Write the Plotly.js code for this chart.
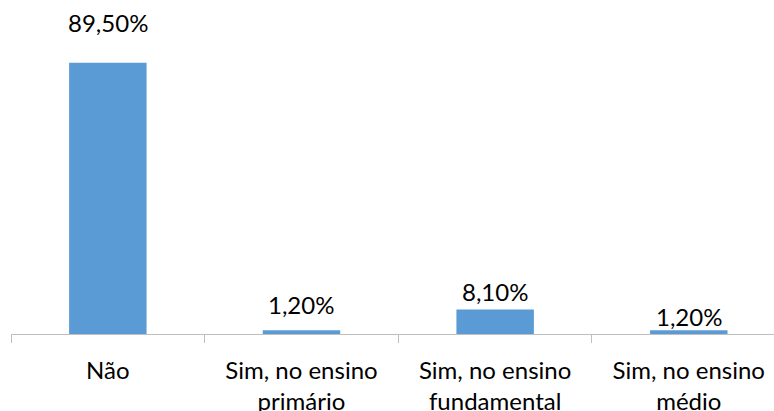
<!DOCTYPE html>
<html>
<head>
<meta charset="utf-8">
<script src="https://cdn.plot.ly/plotly-3.0.1.min.js"></script>
<style>
  html, body { margin: 0; padding: 0; background: #ffffff; }
  #chart { width: 774px; height: 411px; }
</style>
</head>
<body>
<div id="chart"></div>
<script>
// Respostas à pergunta sobre repetência
const categories = ["Não", "Sim, no ensino<br>primário", "Sim, no ensino<br>fundamental", "Sim, no ensino<br>médio"];
const values = [89.5, 1.2, 8.1, 1.2];
const valueLabels = ["89,50%", "1,20%", "8,10%", "1,20%"];

// vertical gap (px) between each bar top and its value label
const labelGap = [24, 9, 1, -3];

const FONT = "Lato, 'Open Sans', sans-serif";

const trace = {
  type: "bar",
  x: categories,
  y: values,
  marker: { color: "#5b9bd5" },
  hoverinfo: "none"
};

const annotations = categories.map((c, i) => ({
  x: c,
  y: values[i],
  xref: "x",
  yref: "y",
  text: valueLabels[i],
  showarrow: false,
  xanchor: "center",
  yanchor: "bottom",
  yshift: labelGap[i],
  font: { family: FONT, size: 24, color: "#000000" }
}));

const layout = {
  width: 774,
  height: 411,
  margin: { l: 11, r: 0, t: 31, b: 77, pad: 0 },
  paper_bgcolor: "#ffffff",
  plot_bgcolor: "#ffffff",
  bargap: 0.6,
  showlegend: false,
  font: { family: FONT, size: 24, color: "#000000" },
  xaxis: {
    type: "category",
    range: [-0.5, 3.44],
    showline: true,
    linecolor: "#bfbfbf",
    linewidth: 1,
    ticks: "outside",
    tickson: "boundaries",
    ticklen: 8,
    tickcolor: "#bfbfbf",
    tickwidth: 1,
    ticklabelstandoff: 15,
    showgrid: false,
    zeroline: false,
    tickfont: { family: FONT, size: 24, color: "#000000" },
    fixedrange: true
  },
  yaxis: {
    range: [0, 100],
    visible: false,
    showgrid: false,
    zeroline: false,
    fixedrange: true
  },
  annotations: annotations
};

Plotly.newPlot("chart", [trace], layout, { displayModeBar: false, staticPlot: true });
</script>
</body>
</html>
